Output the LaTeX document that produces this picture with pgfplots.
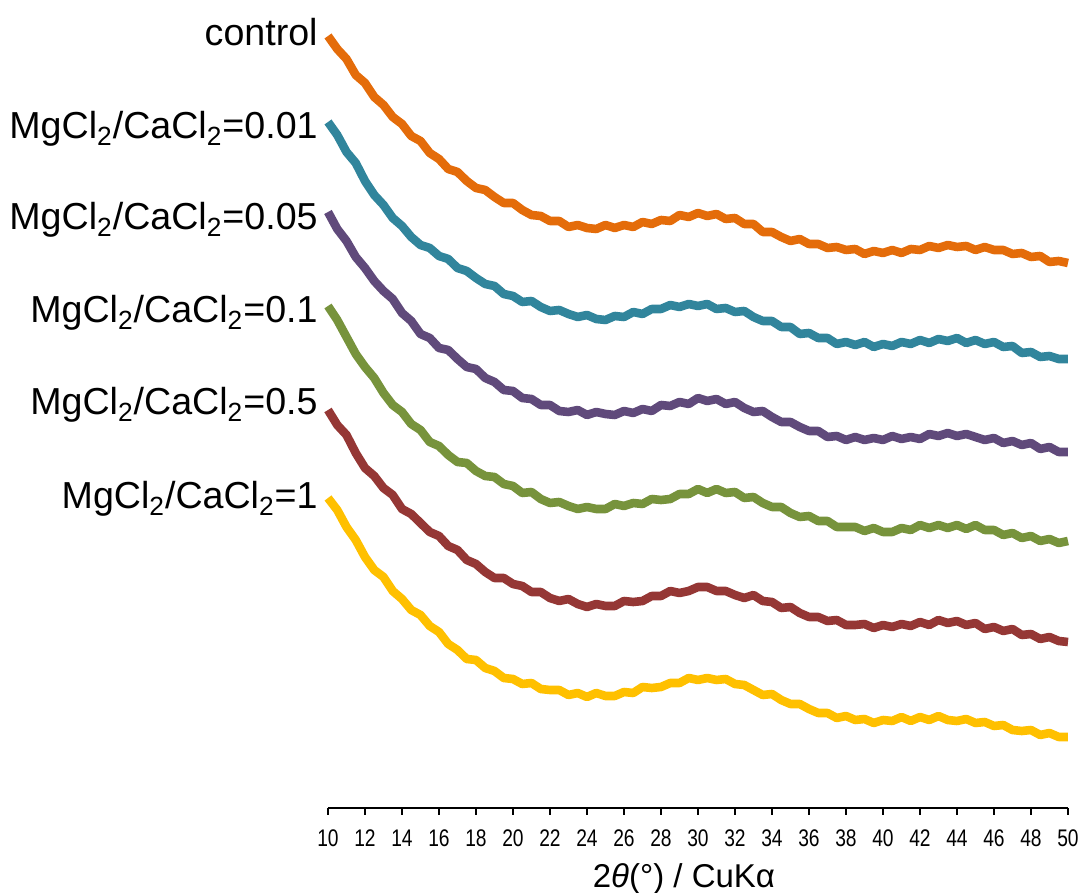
\documentclass[border=0pt]{standalone}
\usepackage{fontspec}
\setmainfont{Liberation Sans}
\newfontfamily\tickfont[FakeStretch=0.8]{Liberation Sans}
\usepackage{pgfplots}
\pgfplotsset{compat=1.18}
\usepackage{pgfplotstable}
\definecolor{cOr}{HTML}{E46C0A}
\definecolor{cTe}{HTML}{31859C}
\definecolor{cPu}{HTML}{604A7B}
\definecolor{cGr}{HTML}{77933C}
\definecolor{cRe}{HTML}{953735}
\definecolor{cYe}{HTML}{FFC000}

\pgfplotstableread{
x O T P G R Y
10.0 -36 -122 -212 -306 -410 -498
10.5 -49 -135 -229 -320 -425 -510
11.0 -59 -152 -241 -337 -435 -527
11.5 -75 -163 -257 -354 -453 -540
12.0 -83 -181 -268 -367 -468 -557
12.5 -97 -195 -281 -378 -476 -570
13.0 -105 -205 -291 -393 -488 -577
13.5 -117 -218 -299 -405 -495 -591
14.0 -124 -226 -313 -412 -509 -599
14.5 -136 -237 -321 -424 -514 -610
15.0 -141 -245 -334 -430 -523 -615
15.5 -153 -248 -338 -442 -532 -626
16.0 -159 -256 -348 -446 -536 -632
16.5 -169 -259 -350 -455 -546 -644
17.0 -172 -268 -359 -462 -550 -650
17.5 -181 -271 -367 -463 -560 -659
18.0 -188 -278 -369 -471 -564 -660
18.5 -190 -284 -378 -476 -572 -668
19.0 -197 -286 -382 -477 -578 -671
19.5 -203 -294 -390 -484 -578 -678
20.0 -203 -296 -391 -486 -584 -679
20.5 -210 -302 -398 -493 -586 -684
21.0 -215 -301 -399 -492 -592 -683
21.5 -216 -307 -405 -499 -592 -689
22.0 -221 -311 -405 -503 -598 -690
22.5 -221 -310 -411 -502 -601 -690
23.0 -227 -314 -412 -506 -599 -695
23.5 -225 -317 -410 -509 -604 -693
24.0 -228 -315 -415 -507 -607 -697
24.5 -229 -319 -412 -509 -604 -693
25.0 -225 -320 -414 -509 -606 -696
25.5 -228 -316 -415 -504 -606 -696
26.0 -225 -317 -411 -506 -601 -692
26.5 -227 -312 -413 -503 -602 -693
27.0 -222 -314 -409 -504 -601 -687
27.5 -224 -309 -411 -499 -596 -688
28.0 -220 -309 -405 -500 -596 -687
28.5 -221 -305 -406 -499 -591 -683
29.0 -215 -307 -402 -494 -593 -683
29.5 -217 -304 -404 -494 -591 -678
30.0 -213 -306 -398 -489 -587 -680
30.5 -216 -304 -401 -493 -587 -678
31.0 -214 -309 -399 -489 -591 -680
31.5 -219 -308 -404 -493 -591 -679
32.0 -218 -312 -402 -492 -595 -684
32.5 -224 -311 -408 -498 -598 -685
33.0 -224 -317 -412 -497 -595 -690
33.5 -232 -321 -411 -503 -601 -695
34.0 -232 -321 -417 -507 -602 -694
34.5 -237 -327 -422 -507 -608 -700
35.0 -241 -327 -422 -513 -607 -704
35.5 -239 -334 -427 -517 -613 -704
36.0 -244 -333 -431 -516 -617 -709
36.5 -244 -338 -431 -521 -617 -713
37.0 -248 -338 -437 -521 -621 -713
37.5 -247 -344 -436 -527 -620 -718
38.0 -250 -342 -440 -527 -625 -716
38.5 -249 -345 -437 -527 -625 -720
39.0 -254 -342 -440 -531 -624 -719
39.5 -251 -347 -438 -528 -628 -723
40.0 -253 -344 -440 -532 -625 -720
40.5 -250 -346 -436 -532 -627 -721
41.0 -253 -342 -439 -528 -624 -717
41.5 -249 -344 -437 -530 -626 -721
42.0 -250 -340 -439 -525 -622 -717
42.5 -246 -343 -434 -528 -625 -720
43.0 -248 -339 -436 -525 -620 -716
43.5 -245 -341 -433 -528 -623 -720
44.0 -247 -338 -436 -525 -621 -721
44.5 -246 -343 -434 -529 -625 -719
45.0 -250 -340 -437 -525 -623 -723
45.5 -247 -344 -440 -530 -629 -722
46.0 -250 -342 -438 -530 -627 -726
46.5 -250 -347 -443 -535 -631 -725
47.0 -254 -346 -441 -533 -629 -730
47.5 -253 -353 -445 -538 -635 -731
48.0 -257 -352 -443 -536 -634 -730
48.5 -256 -357 -449 -541 -639 -735
49.0 -262 -356 -447 -539 -637 -733
49.5 -261 -359 -452 -543 -641 -737
50.0 -263 -359 -452 -541 -642 -737
}\xrd

\begin{document}
\begin{tikzpicture}
\begin{axis}[
  scale only axis, width=370pt, height=404pt,
  xmin=10, xmax=50, ymin=-808, ymax=0,
  axis x line=bottom, axis y line=none,
  axis line style={-, black, line width=1pt},
  every inner x axis line/.append style={-},
  xtick={10,12,...,50}, tick align=outside, major tick length=3.5pt,
  xtick style={black, line width=1pt},
  ytick=\empty,
  /pgf/number format/assume math mode=true,
  xticklabel style={font=\tickfont\fontsize{12}{13}\selectfont, yshift=-4pt},
  xlabel={2\textit{θ}(°) / CuKα},
  xlabel style={at={(axis description cs:0.481,0)}, anchor=base, yshift=-39.5pt, font=\fontsize{16.5}{18}\selectfont},
  clip=false,
  every axis plot/.append style={line width=4.3pt, line join=round, no markers},
]
\addplot[cOr] table[x=x,y=O]{\xrd};
\addplot[cTe] table[x=x,y=T]{\xrd};
\addplot[cPu] table[x=x,y=P]{\xrd};
\addplot[cGr] table[x=x,y=G]{\xrd};
\addplot[cRe] table[x=x,y=R]{\xrd};
\addplot[cYe] table[x=x,y=Y]{\xrd};
\tikzset{lab/.style={anchor=base east, inner sep=0pt, xshift=-5pt, font=\fontsize{18.8}{20}\selectfont}}
\node[lab] at (axis cs:10,-46) {control};
\node[lab] at (axis cs:10,-139) {MgCl\textsubscript{2}/CaCl\textsubscript{2}=0.01};
\node[lab] at (axis cs:10,-230) {MgCl\textsubscript{2}/CaCl\textsubscript{2}=0.05};
\node[lab] at (axis cs:10,-323) {MgCl\textsubscript{2}/CaCl\textsubscript{2}=0.1};
\node[lab] at (axis cs:10,-415) {MgCl\textsubscript{2}/CaCl\textsubscript{2}=0.5};
\node[lab] at (axis cs:10,-509) {MgCl\textsubscript{2}/CaCl\textsubscript{2}=1};
\coordinate (bl) at (axis cs:10,-808);
\coordinate (tr) at (axis cs:50,0);
\end{axis}
\pgfresetboundingbox
\path[use as bounding box] ([xshift=-164pt,yshift=-42.5pt]bl) rectangle ([xshift=9pt]tr);
\end{tikzpicture}
\end{document}
